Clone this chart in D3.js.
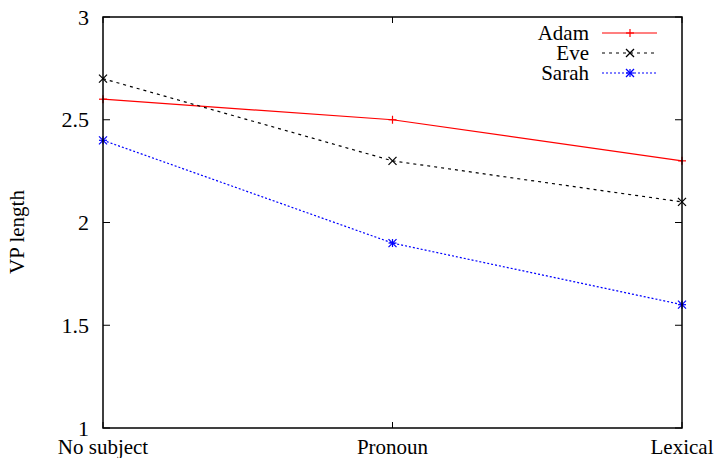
<!DOCTYPE html>
<html>
<head>
<meta charset="utf-8">
<script src="https://cdn.jsdelivr.net/npm/d3@7"></script>
<style>
  body { margin: 0; background: #fff; }
</style>
</head>
<body>
<svg id="chart" width="715" height="458"></svg>
<script>
var categories = ["No subject", "Pronoun", "Lexical"];
var adam = [2.6, 2.5, 2.3];
var eve = [2.7, 2.3, 2.1];
var sarah = [2.4, 1.9, 1.6];
var yTicks = [1, 1.5, 2, 2.5, 3];

var series = [
  { name: "Adam", values: adam, color: "#ff0000", dash: null, marker: "plus" },
  { name: "Eve", values: eve, color: "#000000", dash: "3,4", marker: "cross" },
  { name: "Sarah", values: sarah, color: "#0000ff", dash: "2,2", marker: "star" }
];

var plotLeft = 103, plotRight = 682, plotTop = 17, plotBottom = 428;
var serif = "Liberation Serif";

var svg = d3.select("#chart");

var x = d3.scalePoint().domain(categories).range([plotLeft, plotRight]);
var y = d3.scaleLinear().domain([1, 3]).range([plotBottom, plotTop]);

// tick marks, inside on both sides
var ticks = svg.append("g").attr("stroke", "#000").attr("stroke-width", 1);
yTicks.forEach(function (t) {
  ticks.append("line").attr("x1", plotLeft).attr("x2", plotLeft + 7).attr("y1", y(t)).attr("y2", y(t));
  ticks.append("line").attr("x1", plotRight).attr("x2", plotRight - 7).attr("y1", y(t)).attr("y2", y(t));
});
categories.forEach(function (c) {
  ticks.append("line").attr("x1", x(c)).attr("x2", x(c)).attr("y1", plotBottom).attr("y2", plotBottom - 6);
  ticks.append("line").attr("x1", x(c)).attr("x2", x(c)).attr("y1", plotTop).attr("y2", plotTop + 6);
});

// tick labels
svg.append("g").selectAll("text").data(yTicks).enter().append("text")
  .attr("x", plotLeft - 14)
  .attr("y", function (d) { return y(d); })
  .attr("dy", "0.35em")
  .attr("text-anchor", "end")
  .attr("font-size", 22)
  .style("font-family", serif)
  .text(function (d) { return d; });

svg.append("g").selectAll("text").data(categories).enter().append("text")
  .attr("x", function (d) { return x(d); })
  .attr("y", plotBottom + 26)
  .attr("text-anchor", "middle")
  .attr("font-size", 21)
  .style("font-family", serif)
  .text(function (d) { return d; });

svg.append("text")
  .attr("transform", "translate(24,232) rotate(-90)")
  .attr("text-anchor", "middle")
  .attr("font-size", 21)
  .style("font-family", serif)
  .text("VP length");

function drawMarker(g, type, cx, cy, color) {
  var s = 4;
  var p = g.append("g").attr("stroke", color).attr("stroke-width", 1.2);
  if (type === "plus" || type === "star") {
    p.append("line").attr("x1", cx - s).attr("x2", cx + s).attr("y1", cy).attr("y2", cy);
    p.append("line").attr("x1", cx).attr("x2", cx).attr("y1", cy - s).attr("y2", cy + s);
  }
  if (type === "cross" || type === "star") {
    p.append("line").attr("x1", cx - s).attr("x2", cx + s).attr("y1", cy - s).attr("y2", cy + s);
    p.append("line").attr("x1", cx - s).attr("x2", cx + s).attr("y1", cy + s).attr("y2", cy - s);
  }
}

var line = d3.line()
  .x(function (d, i) { return x(categories[i]); })
  .y(function (d) { return y(d); });

series.forEach(function (s) {
  svg.append("path")
    .attr("d", line(s.values))
    .attr("fill", "none")
    .attr("stroke", s.color)
    .attr("stroke-width", 1.2)
    .attr("stroke-dasharray", s.dash);
  var g = svg.append("g");
  s.values.forEach(function (v, i) {
    drawMarker(g, s.marker, x(categories[i]), y(v), s.color);
  });
});

// legend
var legend = svg.append("g");
series.forEach(function (s, i) {
  var ly = 33 + i * 20;
  legend.append("text")
    .attr("x", 589).attr("y", ly).attr("dy", "0.35em")
    .attr("text-anchor", "end")
    .attr("font-size", 21)
    .style("font-family", serif)
    .text(s.name);
  legend.append("line")
    .attr("x1", 602).attr("x2", 657).attr("y1", ly).attr("y2", ly)
    .attr("stroke", s.color).attr("stroke-width", 1.2)
    .attr("stroke-dasharray", s.dash);
  drawMarker(legend, s.marker, 630, ly, s.color);
});

// frame
svg.append("rect")
  .attr("x", plotLeft).attr("y", plotTop)
  .attr("width", plotRight - plotLeft).attr("height", plotBottom - plotTop)
  .attr("fill", "none").attr("stroke", "#000").attr("stroke-width", 1.5);
</script>
</body>
</html>
